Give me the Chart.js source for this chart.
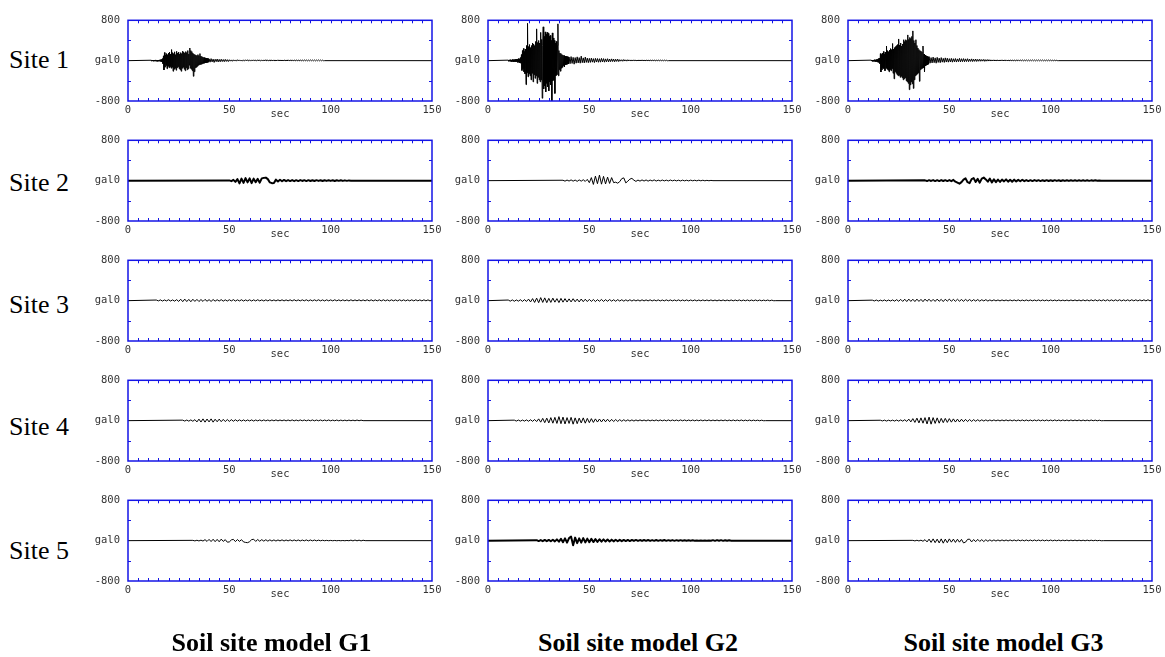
<!DOCTYPE html>
<html>
<head>
<meta charset="utf-8">
<title>Acceleration records at five sites for soil site models G1–G3</title>
<script src="https://cdn.jsdelivr.net/npm/chart.js@4/dist/chart.umd.min.js"></script>
<style>
  html, body { margin: 0; padding: 0; background: #fff; }
  body { position: relative; width: 1165px; height: 657px; overflow: hidden; }
  canvas { position: absolute; }
  .site { position: absolute; left: 9px; font: 26px/26px "Liberation Serif", "Times New Roman", serif; color: #000; white-space: nowrap; }
  .model { position: absolute; width: 320px; text-align: center; font: bold 26px/26px "Liberation Serif", "Times New Roman", serif; color: #000; white-space: nowrap; }
</style>
</head>
<body>
<script>
// ---- Labels and axes ----
const SITES = ['Site 1', 'Site 2', 'Site 3', 'Site 4', 'Site 5'];
const MODELS = ['Soil site model G1', 'Soil site model G2', 'Soil site model G3'];
const X_TICKS = [0, 50, 100, 150];
const X_MINOR = [5, 10, 15, 20, 25, 30, 35, 40, 45, 50, 55, 60, 65, 70, 75, 80, 85, 90, 95, 100,
                 105, 110, 115, 120, 125, 130, 135, 140, 145];
const Y_TICKS = [-800, 0, 800];
const Y_MINOR = [-400, 400];
const X_TITLE = 'sec';
const Y_UNIT = 'gal';

// ---- Acceleration traces (gal). Each stretch: values sampled every STEP s from START s ----
// Site 1, model G1
const g1s1Main = [
  8,-10,12,-6,10,-12,9,-8,14,-10,
  6,-12,10,-14,12,-9,15,-11,18,-16,
  22,-25,40,-60,95,-185,160,-130,110,-95,
  140,-160,120,-110,150,-140,170,-120,130,-150,
  220,-130,160,-210,140,-170,175,-150,120,-190,
  185,-140,150,-120,170,-160,130,-180,160,-210,
  140,-150,190,-130,170,-170,150,-200,180,-140,
  160,-180,200,-160,130,-90,250,-150,200,-170,
  180,-200,150,-310,130,-220,120,-140,110,-130,
  100,-110,120,-90,100,-80,140,-75,90,-70,
  80,-60,70,-55,60,-50,55,-45,50,-40,
  45,-35,40,-30];
const g1s1Coda = [
  35,-30,40,-25,30,-35,28,-20,32,-25,
  25,-22,28,-18,22,-20,25,-15,20,-18,
  18,-10,15,-12,16,-8,14,-10,18,-6,
  15,-8,12,-10,16,-5,14,-7,18,-6,
  12,-9,15,-5,16,-8,13,-6,17,-7,
  14,-5,12,-8,15,-6,18,-5,12,-7,
  16,-6,13,-5,15,-8,12,-4,16,-6,
  14,-5,12,-6,15,-4,13,-7,16,-5,
  12,-4,15,-6,13,-5,14,-3,12,-6,
  15,-4,12,-5,14,-3,13,-5,12,-4,
  14,-3,12,-4,13,-5,12,-3,14,-4,
  12,-3,10,-2,0];
// Site 1, model G2
const g2s1Main = [
  10,-12,15,-10,18,-14,12,-20,22,-15,
  18,-25,20,-18,25,-22,30,-20,28,-35,
  40,-30,35,-45,60,-50,120,-195,200,-160,
  240,-220,180,-260,230,-475,300,-240,740,-320,
  280,-260,320,-300,260,-380,300,-250,350,-420,
  330,-280,300,-350,380,-300,630,-450,360,-330,
  400,-380,350,-420,560,-380,420,-745,300,670,
  -560,480,-500,570,-620,520,-450,560,-520,540,
  -600,480,-420,500,-480,400,-820,550,-400,450,
  -380,400,-650,350,-300,380,-280,300,730,-300,
  200,-180,150,-210,140,-150,120,-130,110,-100,
  100,-120,90,-80,85,-75,80,-70,75,-65];
const g2s1Coda = [
  70,-60,80,-55,65,-70,60,-50,75,-45,
  60,-50,90,-40,55,-45,70,-35,50,-40,
  45,-35,50,-30,40,-38,45,-28,42,-32,
  38,-30,45,-25,40,-30,35,-22,38,-25,
  32,-20,35,-18,30,-22,28,-15,30,-18,
  20,-10,18,-12,22,-8,16,-10,18,-6,
  15,-8,14,-6,16,-5,12,-7,14,-5,
  13,-5,15,-4,12,-6,14,-3,12,-5,
  14,-4,12,-3,13,-5,11,-3,12,-4,
  12,-3,10,-4,11,-2,8,-2,0];
// Site 1, model G3
const g3s1Main = [
  10,-8,12,-15,10,-12,18,-14,15,-20,
  22,-18,25,-30,40,-35,50,-60,140,-225,
  120,-180,150,-140,180,-160,130,-200,170,-150,
  290,-170,200,-190,180,-220,210,-180,240,-200,
  220,-160,340,-250,230,-360,260,-220,280,-250,
  300,-280,320,-300,430,-290,310,-330,350,-310,
  290,-340,330,-380,415,-360,380,-340,415,-400,
  400,-420,510,-450,420,-575,460,-480,440,-420,
  480,-460,590,-550,400,-380,350,-300,415,-280,
  300,-260,250,-240,220,-410,200,-180,190,-160,
  170,-150,290,-140,130,-225,110,-100,95,-90,
  85,-80,75,-70];
const g3s1Coda = [
  80,-50,60,-45,70,-40,55,-50,65,-35,
  50,-40,60,-30,45,-35,55,-28,48,-30,
  40,-25,45,-30,38,-22,42,-28,35,-20,
  45,-25,38,-20,40,-22,35,-18,38,-20,
  30,-15,35,-18,28,-14,32,-16,25,-12,
  28,-12,22,-10,25,-14,20,-10,22,-8,
  18,-8,15,-6,16,-7,14,-5,15,-6,
  14,-5,16,-6,13,-4,15,-5,12,-6,
  15,-4,13,-5,14,-6,12,-4,16,-5,
  13,-4,15,-5,12,-3,14,-5,13,-4,
  12,-3,14,-4,13,-5,12,-3,14,-4,
  12,-3,13,-4,11,-3,12,-4,13,-3,
  12,-3,10,-3,11,-2,8,-2,0];
// Site 2
const g1s2 = [
  5,-10,15,-25,30,-55,40,-45,50,-35,
  45,-50,40,-30,35,-40,45,55,60,30,
  -35,-50,-45,20,-15,18,-12,15,-10,12,
  -8,12,-10,10,-8,12,-6,10,-8,10,
  -6,9,-7,10,-5,8,-6,9,-5,8,
  -5,7,-6,8,-4,7,-5,6,-4,5,
  0];
const g2s2 = [
  8,-10,12,-8,15,-10,12,-14,15,-10,
  18,-15,25,-40,60,-75,90,-60,110,-70,
  85,-65,70,-55,60,-40,-30,-50,-20,40,
  55,-45,-10,30,45,10,-15,12,-10,15,
  -8,14,-10,12,-6,15,-8,10,-6,12,
  -5,10,-6,12,-4,10,-5,9,-6,10,
  -4,8,-5,10,-3,8,-4,9,-3,8,
  -3,6,-2,5,0];
const g3s2 = [
  6,-8,10,-6,12,-8,10,-9,12,-7,
  10,-8,12,-10,15,-20,-40,-60,-30,20,
  45,-30,-50,30,50,-25,35,-40,40,60,
  25,-20,40,-35,25,-30,20,-25,22,-15,
  25,-20,18,-22,20,-15,15,-12,18,-10,
  12,-8,10,-9,12,-6,10,-8,9,-6,
  10,-7,8,-6,10,-5,8,-6,9,-5,
  8,-5,9,-4,8,-5,7,-4,8,-4,
  7,-4,6,-3,6,-3,4,0];
// Site 3
const g1s3 = [
  12,-5,15,-8,14,-6,18,-8,15,-10,
  20,-15,28,-20,30,-18,25,-22,28,-15,
  25,-18,22,-15,25,-12,20,-15,22,-10,
  18,-8,20,-10,16,-8,18,-6,20,-8,
  16,-6,18,-8,15,-5,17,-7,16,-6,
  18,-5,15,-7,16,-6,18,-5,15,-6,
  16,-5,17,-6,15,-4,16,-6,18,-5,
  15,-5,16,-4,17,-6,15,-5,16,-4,
  17,-5,15,-6,16,-4,15,-5,17,-4,
  15,-5,16,-4,15,-6,17,-5,15,-4,
  16,-5,15,-4,17,-5,16,-6,15,-4,
  16,-5,17,-4,15,-5,16,-4,15,-5,
  17,-4,16,-5,15,-4,16,-5,17,-4,
  15,-5,16,-4,15,-5,12];
const g2s3 = [
  12,-10,15,-12,14,-10,18,-15,20,-15,
  30,-25,40,-35,50,-40,60,-35,55,-40,
  45,-35,50,-30,40,-38,45,-30,40,-28,
  35,-25,38,-22,30,-25,32,-20,28,-18,
  25,-15,22,-18,20,-12,24,-15,20,-12,
  22,-10,18,-12,20,-8,18,-10,16,-8,
  18,-8,16,-6,15,-8,17,-6,15,-5,
  16,-6,14,-5,15,-6,13,-5,15,-4,
  14,-5,13,-4,15,-5,13,-4,14,-5,
  13,-4,14,-5,12,-4,14,-3,13,-4,
  14,-4,12,-5,13,-3,14,-4,12,-3,
  13,-4,12,-3,14,-4,12,-3,13,-4,
  12,-3,13,-4,12,-3,11,-2,12,-3,
  10,-2,0];
const g3s3 = [
  10,-6,12,-8,10,-6,14,-8,12,-7,
  15,-10,20,-12,25,-15,28,-18,30,-15,
  28,-18,30,-15,25,-20,30,-12,28,-15,
  25,-15,30,-12,25,-18,28,-10,30,-12,
  25,-12,28,-10,22,-12,25,-8,22,-10,
  20,-8,22,-10,18,-6,20,-8,15,-6,
  16,-5,14,-6,15,-4,13,-5,14,-4,
  13,-4,15,-5,12,-4,14,-3,13,-4,
  12,-3,14,-4,13,-3,12,-4,13,-3,
  12,-4,13,-3,11,-3,12,-4,13,-3,
  14,-4,13,-5,15,-4,14,-5,15,-4,
  16,-5,15,-4,16,-5,17,-4,15,-5,
  16,-4,17,-5,15,-4,16,-5,17,-4,
  16,-5,15,-4,16,-5,17,-4,14];
// Site 4
const g1s4 = [
  10,-8,12,-10,15,-12,20,-25,30,-28,
  35,-30,32,-25,35,-30,28,-22,30,-20,
  25,-18,22,-15,20,-12,18,-10,16,-8,
  15,-8,14,-6,15,-8,13,-5,14,-6,
  15,-5,13,-6,14,-4,15,-5,13,-4,
  14,-5,13,-4,15,-5,12,-4,14,-3,
  13,-4,12,-3,14,-4,12,-3,13,-4,
  12,-3,13,-4,11,-3,12,-4,11,-3,
  10,-3,11,-2,10,-3,12,-2,10,0];
const g2s4 = [
  10,-8,12,-10,12,-9,15,-12,18,-14,
  22,-18,35,-30,45,-40,50,-45,60,-50,
  65,-55,80,-60,70,-65,60,-55,65,-70,
  55,-60,50,-45,55,-50,45,-40,40,-35,
  35,-28,32,-25,30,-22,28,-20,25,-18,
  22,-15,20,-12,18,-10,16,-8,15,-8,
  14,-6,15,-5,13,-6,14,-5,12,-4,
  14,-5,13,-4,12,-5,14,-4,13,-3,
  12,-4,14,-3,13,-4,12,-3,13,-4,
  12,-3,13,-4,12,-3,14,-4,12,-3,
  13,-4,12,-3,13,-4,12,-3,13,-3,
  12,-3,13,-4,11,-3,12,-3,11,-2,
  10,-3,9,-2,0];
const g3s4 = [
  8,-6,10,-8,9,-6,10,-8,12,-9,
  14,-10,18,-15,30,-25,40,-35,50,-45,
  55,-50,60,-65,70,-70,60,-55,55,-50,
  45,-40,45,-35,40,-30,35,-28,30,-25,
  28,-20,25,-18,22,-15,20,-12,18,-10,
  16,-8,15,-7,14,-6,15,-5,13,-6,
  14,-5,15,-4,13,-5,14,-6,12,-4,
  14,-5,13,-4,12,-5,13,-3,14,-4,
  12,-4,13,-3,12,-4,14,-3,12,-4,
  13,-3,12,-4,13,-3,12,-3,13,-4,
  12,-3,11,-3,12,-2,10,-3,9,-2,
  0];
// Site 5
const g1s5 = [
  6,-5,8,-6,10,-8,20,-15,25,-18,
  28,-20,25,-22,30,-15,20,-30,-25,15,
  25,-18,22,-15,20,-25,-35,-40,-20,20,
  28,-15,22,-12,20,-10,18,-10,16,-8,
  15,-8,14,-6,16,-7,13,-5,15,-6,
  14,-5,13,-6,12,-4,14,-5,13,-4,
  12,-4,10,-3,8,-2,6,-2,5,-2,
  4,-2,3,-2,3,-2,4,-2,10,-5,
  12,-4,10,-5,8,0];
const g2s5 = [
  10,-8,12,-10,14,-10,15,-12,18,-14,
  25,-20,35,-30,45,-40,50,80,-90,60,
  -50,45,-40,50,-35,40,-30,35,-28,30,
  -25,28,-20,25,-18,22,-15,20,-14,18,
  -12,16,-10,15,-8,14,-8,15,-6,14,
  -6,12,-5,13,-4,12,-5,11,-4,12,
  -4,11,-3,12,-4,10,-3,11,-4,10,
  -3,10,-2,9,-3,8,-2,6,-2,5,
  -2,4,-2,3,-2,4,-2,10,-4,11,
  -3,10,-4,9,-3,6,0];
const g3s5 = [
  6,-5,8,-6,10,-12,20,-25,30,-35,
  35,-40,30,-45,35,-50,30,-40,35,-30,
  30,-35,28,-30,25,-45,-30,25,30,-25,
  22,-20,25,-15,20,-18,18,-12,16,-10,
  15,-8,14,-7,15,-6,13,-6,14,-5,
  13,-5,14,-4,12,-5,13,-4,12,-5,
  13,-4,12,-3,12,-4,11,-3,12,-4,
  10,-3,11,-3,10,-2,11,-3,10,-2,
  11,-3,10,-2,9,-3,10,-2,9,-2,
  8,-2,6,-2,0];

// Stretches per panel: [values, START (s), STEP (s)]; rows = sites, columns = models
const RECORDS = [
  [[[g1s1Main, 11.5, 0.25], [g1s1Coda, 40, 0.5]],
   [[g2s1Main, 10, 0.25], [g2s1Coda, 40, 0.5]],
   [[g3s1Main, 11.5, 0.25], [g3s1Coda, 40, 0.5]]],
  [[[g1s2, 50, 1]], [[g2s2, 37, 1]], [[g3s2, 38, 1]]],
  [[[g1s3, 14, 1]], [[g2s3, 10, 1]], [[g3s3, 12, 1]]],
  [[[g1s4, 27, 1]], [[g2s4, 13, 1]], [[g3s4, 16, 1]]],
  [[[g1s5, 32, 1]], [[g2s5, 24, 1]], [[g3s5, 32, 1]]]
];

// ---- Page geometry and styles ----
const PLOT_LEFT = [128, 488, 848];
const PLOT_TOP = [16, 136, 256, 376, 496];
const PLOT_W = 304, PLOT_H = 85;
const Y_AXIS_W = 50, X_AXIS_H = 30, PAD_TOP = 10, PAD_RIGHT = 16;
const SITE_TOP = [46.5, 169.7, 292.2, 414.2, 538.2];
const MODEL_CENTER = [271.5, 638, 1003.5];
const MODEL_TOP = 629.7;
const FRAME_COLOR = '#1414e6';
const TEXT_COLOR = '#333';
const AXIS_FONT = { family: '"DejaVu Sans Mono", "Liberation Mono", monospace', size: 10.5 };
// panels whose zero line reads heavier
const HEAVY = { '1,0': 2, '1,2': 2, '4,1': 2 };

function toPoints(stretches) {
  const pts = [{ x: 0, y: 0 }];
  for (const [vals, start, step] of stretches) {
    vals.forEach((v, i) => pts.push({ x: start + i * step, y: v }));
  }
  pts.push({ x: 150, y: 0 });
  return pts;
}

// blue frame with inward ticks, drawn from the chart's own scales
const framePlugin = {
  id: 'frame',
  afterDatasetsDraw(chart) {
    const { ctx, chartArea: a, scales: { x, y } } = chart;
    ctx.save();
    ctx.strokeStyle = FRAME_COLOR;
    ctx.lineWidth = 1;
    ctx.beginPath();
    for (const v of X_MINOR) {
      const px = Math.round(x.getPixelForValue(v)) + 0.5;
      ctx.moveTo(px, a.top); ctx.lineTo(px, a.top + 3);
      ctx.moveTo(px, a.bottom); ctx.lineTo(px, a.bottom - 3);
    }
    for (const v of Y_MINOR) {
      const py = Math.round(y.getPixelForValue(v)) + 0.5;
      ctx.moveTo(a.left, py); ctx.lineTo(a.left + 3, py);
      ctx.moveTo(a.right, py); ctx.lineTo(a.right - 3, py);
    }
    ctx.stroke();
    ctx.lineWidth = 1.5;
    ctx.strokeRect(a.left, a.top, a.right - a.left, a.bottom - a.top);
    ctx.restore();
  }
};

function makePanel(r, c) {
  const cv = document.createElement('canvas');
  const w = Y_AXIS_W + PLOT_W + PAD_RIGHT, h = PAD_TOP + PLOT_H + X_AXIS_H;
  cv.width = w; cv.height = h;
  cv.style.left = (PLOT_LEFT[c] - Y_AXIS_W) + 'px';
  cv.style.top = (PLOT_TOP[r] - PAD_TOP) + 'px';
  cv.style.width = w + 'px'; cv.style.height = h + 'px';
  document.body.appendChild(cv);
  new Chart(cv, {
    type: 'line',
    data: {
      datasets: [{
        data: toPoints(RECORDS[r][c]),
        borderColor: '#000',
        borderWidth: HEAVY[r + ',' + c] || 1,
        borderJoinStyle: 'round',
        pointRadius: 0,
        tension: 0,
        fill: false
      }]
    },
    options: {
      responsive: false,
      animation: false,
      events: [],
      parsing: false,
      devicePixelRatio: 1,
      layout: { padding: { left: 0, top: PAD_TOP, right: PAD_RIGHT, bottom: 0 } },
      plugins: { legend: { display: false }, tooltip: { enabled: false } },
      scales: {
        x: {
          type: 'linear', min: 0, max: 150,
          grid: { display: false, drawTicks: false },
          border: { display: false },
          afterBuildTicks: s => { s.ticks = X_TICKS.map(v => ({ value: v })); },
          afterFit: s => { s.height = X_AXIS_H; },
          ticks: { padding: 3, color: TEXT_COLOR, font: AXIS_FONT, maxRotation: 0, autoSkip: false },
          title: { display: true, text: X_TITLE, color: TEXT_COLOR, font: AXIS_FONT, padding: { top: 0, bottom: 10 } }
        },
        y: {
          type: 'linear', min: -800, max: 800,
          grid: { display: false, drawTicks: false },
          border: { display: false },
          afterBuildTicks: s => { s.ticks = Y_TICKS.map(v => ({ value: v })); },
          afterFit: s => { s.width = Y_AXIS_W; },
          ticks: {
            padding: 8, color: TEXT_COLOR, font: AXIS_FONT, autoSkip: false,
            callback: v => (v === 0 ? Y_UNIT + v : String(v))
          }
        }
      }
    },
    plugins: [framePlugin]
  });
}

for (let r = 0; r < SITES.length; r++) {
  const d = document.createElement('div');
  d.className = 'site';
  d.style.top = SITE_TOP[r] + 'px';
  d.textContent = SITES[r];
  document.body.appendChild(d);
  for (let c = 0; c < MODELS.length; c++) makePanel(r, c);
}
MODELS.forEach((m, c) => {
  const d = document.createElement('div');
  d.className = 'model';
  d.style.left = (MODEL_CENTER[c] - 160) + 'px';
  d.style.top = MODEL_TOP + 'px';
  d.textContent = m;
  document.body.appendChild(d);
});
</script>
</body>
</html>
